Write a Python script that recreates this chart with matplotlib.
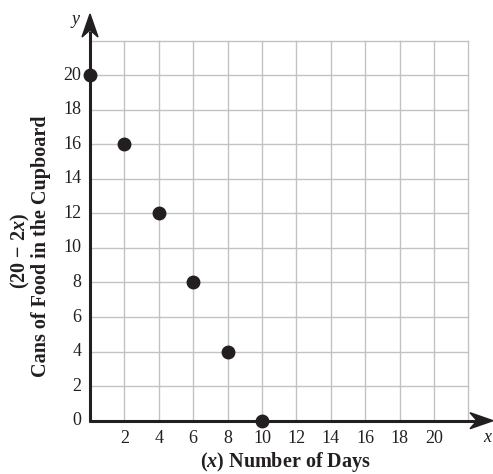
import matplotlib.pyplot as plt
from matplotlib.patches import Polygon
from matplotlib.transforms import IdentityTransform

# data
days = [0, 2, 4, 6, 8, 10]
cans = [20, 16, 12, 8, 4, 0]
x_ticks = [2, 4, 6, 8, 10, 12, 14, 16, 18, 20]
y_ticks = [0, 2, 4, 6, 8, 10, 12, 14, 16, 18, 20]
grid_max = 22

plt.rcParams['font.family'] = ['Liberation Serif', 'DejaVu Serif']
plt.rcParams['mathtext.fontset'] = 'custom'
plt.rcParams['mathtext.rm'] = 'Liberation Serif'
plt.rcParams['mathtext.it'] = 'Liberation Serif:italic'
plt.rcParams['mathtext.bf'] = 'Liberation Serif:bold'
plt.rcParams['mathtext.bfit'] = 'Liberation Serif:bold:italic'
ink = '#231f20'

W, H = 493, 474
fig = plt.figure(figsize=(W / 100, H / 100), dpi=100)
# axes box: x=0 at 90px, y=0 at 420.7px, ~17.2 px per unit
x0, y0 = 90 / W, (H - 420.7) / H
xmax = (W - 90) / 17.2
ymax = (420.7 - 14) / 17.28
ax = fig.add_axes([x0, y0, 1 - x0, (H - 14) / H - y0])
ax.set_xlim(0, xmax)
ax.set_ylim(0, ymax)
ax.axis('off')

# grid
for g in range(2, grid_max + 1, 2):
    ax.plot([g, g], [0, grid_max], color='#c2c2c2', lw=1, zorder=1)
    ax.plot([0, grid_max], [g, g], color='#c2c2c2', lw=1, zorder=1)

# axis lines
ax.plot([-0.05, xmax - 1.0], [0, 0], color=ink, lw=2.2, zorder=3, clip_on=False,
        solid_capstyle='butt')
ax.plot([0, 0], [-0.05, ymax - 1.0], color=ink, lw=2.2, zorder=3, clip_on=False,
        solid_capstyle='butt')

# arrow heads (pixel shapes at the axis ends)
def head(tip, direction):
    tx, ty = ax.transData.transform(tip)
    L, w, notch = 23, 8, 16
    if direction == 'x':
        pts = [(tx, ty), (tx - L, ty + w), (tx - notch, ty), (tx - L, ty - w)]
    else:
        pts = [(tx, ty), (tx - w, ty - L), (tx, ty - notch), (tx + w, ty - L)]
    fig.patches.append(Polygon(pts, closed=True, color=ink, transform=IdentityTransform(),
                               figure=fig, zorder=5))

head((xmax, 0), 'x')
head((0, ymax), 'y')

# points
ax.plot(days, cans, 'o', color=ink, markersize=9, zorder=4, clip_on=False)

# tick labels
for t in x_ticks:
    ax.text(t, -0.55, str(t), ha='center', va='top', fontsize=13, color=ink)
for t in y_ticks:
    ax.text(-0.5, t, str(t), ha='right', va='center', fontsize=13, color=ink)

ax.text(23.1, -0.5, 'x', style='italic', ha='center', va='top', fontsize=13, color=ink)
ax.text(-0.6, 23.2, 'y', style='italic', ha='right', va='center', fontsize=13, color=ink)

# axis titles
fig.text(285 / W, 1 - 462 / H, r'($\mathbfit{x}$) Number of Days', ha='center', va='center',
         fontsize=14.5, fontweight='bold', color=ink)
fig.text(41 / W, 1 - 246 / H, 'Cans of Food in the Cupboard', rotation=90,
         ha='center', va='center', fontsize=14.5, fontweight='bold', color=ink)
fig.text(20 / W, 1 - 251 / H, r'(20 − 2$\mathbfit{x}$)', rotation=90,
         ha='center', va='center', fontsize=14.5, fontweight='bold', color=ink)

fig.savefig('out.png', dpi=100)
